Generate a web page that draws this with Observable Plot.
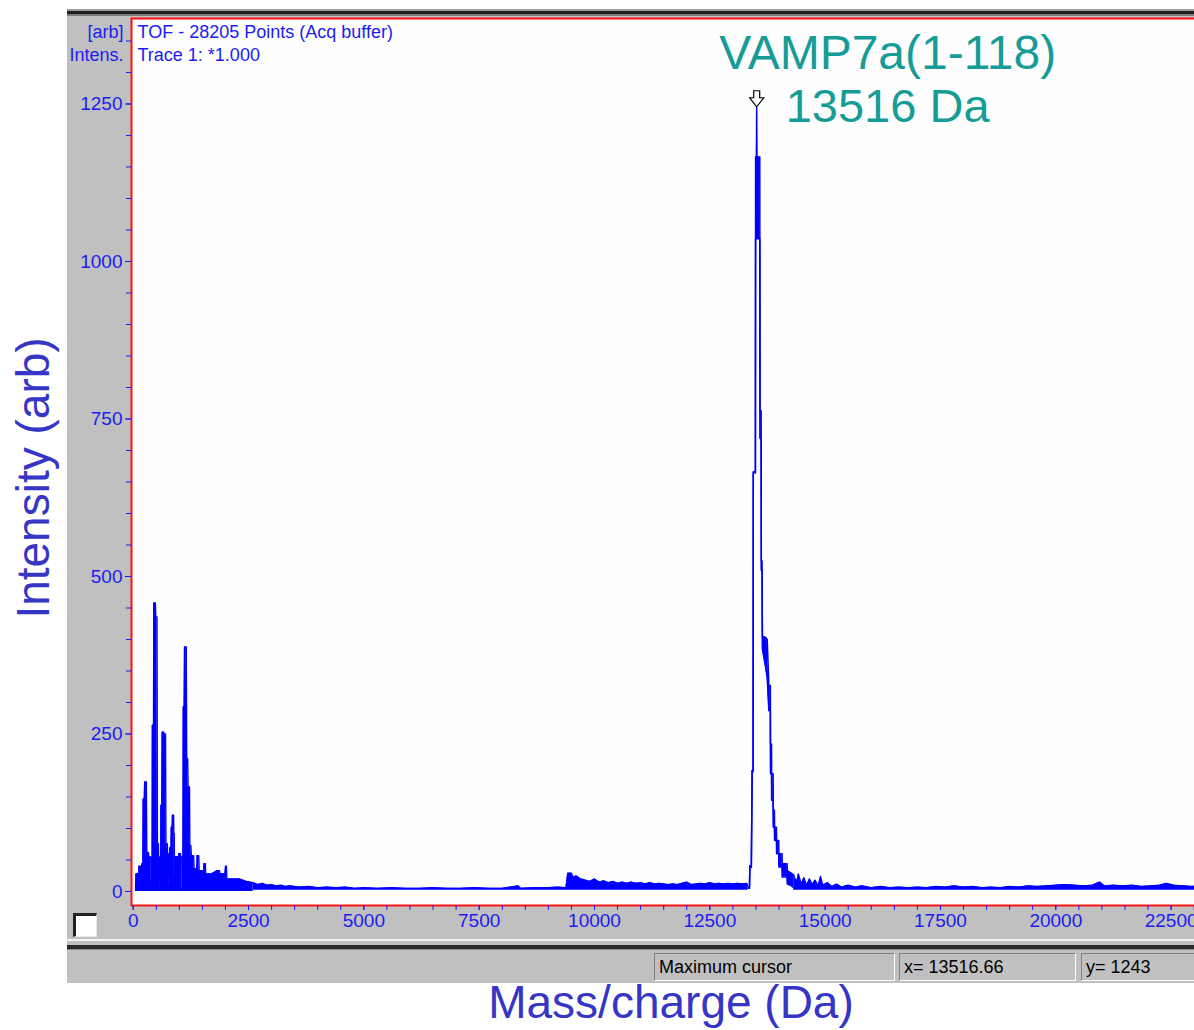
<!DOCTYPE html>
<html>
<head>
<meta charset="utf-8">
<script src="https://cdn.jsdelivr.net/npm/d3@7"></script>
<script src="https://cdn.jsdelivr.net/npm/@observablehq/plot@0.6"></script>
<style>
  html, body { margin: 0; padding: 0; background: #fff; }
  #root { position: relative; width: 1194px; height: 1030px; overflow: hidden; background: #fff; font-family: "Liberation Sans", Arial, sans-serif; }
  .abs { position: absolute; }
  .status { position: absolute; top: 953px; height: 28px; box-sizing: border-box; border-top: 1px solid #808080; border-left: 1px solid #808080; border-bottom: 1px solid #ffffff; border-right: 1px solid #ffffff; font-size: 18px; color: #000; line-height: 26px; padding-left: 4px; white-space: nowrap; }
</style>
</head>
<body>
<div id="root">
  <div class="abs" style="left:67px;top:9px;width:1140px;height:974px;background:#c0c0c0"></div>
  <div class="abs" style="left:67px;top:9px;width:1140px;height:2px;background:#9a9a9a"></div>
  <div class="abs" style="left:67px;top:11px;width:1140px;height:3px;background:#1e1e1e"></div>
  <div class="abs" style="left:67px;top:14px;width:1140px;height:2px;background:#7a7a7a"></div>
  <div id="chart" class="abs" style="left:0;top:0;width:1240px"></div>
  <div class="abs" style="left:73px;top:913px;width:24px;height:24px;box-sizing:border-box;background:#fff;border-top:3px solid #202020;border-left:3px solid #202020;border-right:1px solid #e8e8e8;border-bottom:1px solid #e8e8e8"></div>
  <div class="abs" style="left:67px;top:939px;width:1140px;height:2px;background:#f4f4f4"></div>
  <div class="abs" style="left:67px;top:945px;width:1140px;height:4px;background:#2a2a2a"></div>
  <div class="abs" style="left:67px;top:949px;width:1140px;height:1px;background:#8a8a8a"></div>
  <div class="status" id="st0" style="left:654px;width:241px"></div>
  <div class="status" id="st1" style="left:899px;width:177px"></div>
  <div class="status" id="st2" style="left:1081px;width:130px"></div>
  <div class="abs" id="ylab" style="left:33px;top:478px;transform:translate(-50%,-50%) rotate(-90deg);font-size:46px;color:#3535c6;white-space:nowrap;line-height:1"></div>
  <div class="abs" id="xlab" style="left:0;width:1342px;top:979px;text-align:center;font-size:46px;color:#3535c6;white-space:nowrap;line-height:1"></div>
</div>
<script>
// ---- Data ----
// Low-mass cluster (Da, intensity)
const lowMass = [50,60,120,125,180,190,210,216,240,248,285,295,330,340,380,395,410,415,440,447,480,490,515,525,545,550,570,577,595,600,620,628,660,670,700,710,740,745,765,772,790,795,820,825,845,850,875,880,890,895,905,910,980,990,1025,1030,1055,1062,1078,1085,1105,1112,1150,1160,1180,1190,1220,1228,1250,1260,1310,1320,1380,1385,1420,1430,1530,1535,1565,1570,1700,1820,1870,1880,1990,2001,2020,2030,2300,2450,2600];
const lowInt  = [4,28,28,40,40,44,44,147,147,174,174,62,62,55,55,15,15,264,264,458,458,436,436,76,76,55,55,7,7,137,137,253,253,250,250,76,76,60,60,12,12,70,70,102,102,121,121,92,92,10,10,55,55,60,60,55,55,4,4,293,293,388,388,211,211,166,166,73,73,57,57,36,36,57,57,33,33,44,44,28,28,33,33,28,28,40,40,20,20,16,14];

// Baseline noise envelope (Da, top of noise band); NaN marks the gap under the main peak
const noiseMass = [2600,2700,2800,2900,3000,3100,3200,3300,3400,3600,3800,4000,4200,4400,4600,4800,5000,5300,5600,5900,6200,6500,6800,7100,7400,7700,8000,8350,8400,8700,9000,9200,9380,9420,9500,9540,9600,9700,9800,9900,10000,10100,10200,10300,10400,10500,10600,10700,10800,10900,11000,11100,11200,11300,11400,11500,11600,11700,11800,11900,12000,12100,12200,12300,12400,12500,12600,12700,12800,12900,13000,13100,13200,13300,13330,13900,14320,14380,14420,14480,14540,14600,14660,14720,14780,14850,14900,14950,15050,15150,15250,15350,15500,15650,15800,16000,16200,16400,16600,16800,17000,17200,17400,17600,17800,18000,18200,18400,18600,18800,19000,19200,19400,19600,19800,20000,20200,20400,20600,20800,20950,21050,21250,21450,21650,21850,22050,22250,22400,22550,22750,22950,23150,23400,23700,24000];
const noiseTop  = [14,11,13,10,11,9,10,8,9,7,8,6,7,6,7,5,6,5,6,5,5,6,5,5,6,5,5,9,5,6,6,7,6,29,29,22,25,20,18,16,20,15,17,14,16,13,15,13,15,13,14,12,14,12,13,12,11,12,11,13,15,11,12,13,12,14,12,13,12,13,12,13,12,13,8,NaN,26,14,28,12,22,10,20,11,18,9,24,10,14,8,12,7,10,7,9,6,8,6,7,6,7,6,8,7,9,7,8,6,7,6,8,7,9,8,9,10,11,10,9,10,15,9,10,9,10,8,9,10,13,10,9,8,9,8,9,8];
const noiseFloor = 2;

// Main peak, VAMP7a(1-118): low and high edge of the trace at each mass
const peakMass = [13338,13360,13368,13400,13418,13438,13442,13488,13492,13510,13516,13522,13583,13588,13612,13616,13632,13640,13700,13744,13780,13812,13815,13837,13840,13872,13876,13900,13904,13944,13948,13994,13998,14066,14070,14175,14180,14250,14320];
const peakLo   = [5,5,41,38,192,190,666,664,1036,1036,1036,1036,1036,719,719,510,510,385,360,340,287,287,187,187,145,145,102,102,81,81,60,60,39,39,23,23,12,10,6];
const peakHi   = [6,8,41,41,192,192,666,666,1166,1166,1244,1166,1166,763,763,525,525,404,404,400,327,327,234,234,187,187,129,129,102,102,81,81,60,60,44,44,33,30,26];

const apexMass = 13516;
const apexInt = 1244;

// Axes
const xMajor = [0,2500,5000,7500,10000,12500,15000,17500,20000,22500];
const yMajor = [0,250,500,750,1000,1250];
const xMinor = d3.range(0, 24001, 500);
const yMinor = d3.range(0, 1351, 50);

// Text
const peakLabel = "VAMP7a(1-118)";
const peakMassLabel = "13516 Da";
const infoLine1 = "TOF - 28205 Points (Acq buffer)";
const infoLine2 = "Trace 1: *1.000";
const unitLine1 = "[arb]";
const unitLine2 = "Intens.";
const statusTexts = ["Maximum cursor", "x= 13516.66", "y= 1243"];
const yTitle = "Intensity (arb)";
const xTitle = "Mass/charge (Da)";

// ---- Drawing ----
const blue = "#0000ff";
const axisBlue = "#1c1cf0";
const teal = "#169c97";

const lowIdx = d3.range(lowMass.length);
const noiseIdx = d3.range(noiseMass.length);
const peakIdx = d3.range(peakMass.length);

const arrowSymbol = {
  draw(ctx) {
    ctx.moveTo(-3, -17); ctx.lineTo(3, -17); ctx.lineTo(3, -10); ctx.lineTo(7, -10);
    ctx.lineTo(0, -1); ctx.lineTo(-7, -10); ctx.lineTo(-3, -10); ctx.closePath();
  }
};

const font = "Liberation Sans, Arial, sans-serif";

const chart = Plot.plot({
  width: 1240,
  height: 940,
  marginLeft: 131,
  marginRight: 0,
  marginTop: 18,
  marginBottom: 35,
  x: {type: "linear", domain: [-37, 24004]},
  y: {type: "linear", domain: [-22.2, 1385.7]},
  style: {background: "transparent", maxWidth: "none", overflow: "visible", fontFamily: font, fontSize: "18px", color: axisBlue},
  marks: [
    Plot.frame({fill: "#fefefe", stroke: "none"}),
    Plot.areaY(lowIdx, {x: i => lowMass[i], y1: () => 0, y2: i => lowInt[i], fill: blue}),
    Plot.lineY(lowIdx, {x: i => lowMass[i], y: i => lowInt[i], stroke: blue, strokeWidth: 1.4}),
    Plot.areaY(noiseIdx, {x: i => noiseMass[i], y1: () => noiseFloor, y2: i => noiseTop[i], fill: blue}),
    Plot.lineY(noiseIdx, {x: i => noiseMass[i], y: i => noiseTop[i], stroke: blue, strokeWidth: 1.3}),
    Plot.areaY(peakIdx, {x: i => peakMass[i], y1: i => peakLo[i], y2: i => peakHi[i], fill: blue}),
    Plot.lineY(peakIdx, {x: i => peakMass[i], y: i => peakHi[i], stroke: blue, strokeWidth: 1.5}),
    Plot.lineY(peakIdx, {x: i => peakMass[i], y: i => peakLo[i], stroke: blue, strokeWidth: 1.5}),
    Plot.frame({stroke: "#ff1010", strokeWidth: 2}),
    Plot.axisY({ticks: yMinor, tickSize: 5, tickFormat: () => "", label: null, stroke: axisBlue}),
    Plot.axisY({ticks: yMajor, tickSize: 6, tickPadding: 3, label: null, stroke: axisBlue, fill: axisBlue, fontSize: 19, tickFormat: d => String(d)}),
    Plot.axisX({ticks: xMinor, tickSize: 5, tickFormat: () => "", label: null, stroke: axisBlue}),
    Plot.axisX({ticks: xMajor, tickSize: 5, tickPadding: 3, label: null, stroke: axisBlue, fill: axisBlue, fontSize: 19, tickFormat: d => String(d)}),
    Plot.text([infoLine1], {frameAnchor: "top-left", text: d => d, dx: 6, dy: 19, lineAnchor: "bottom", textAnchor: "start", fill: axisBlue, fontSize: 18}),
    Plot.text([infoLine2], {frameAnchor: "top-left", text: d => d, dx: 6, dy: 42, lineAnchor: "bottom", textAnchor: "start", fill: axisBlue, fontSize: 18}),
    Plot.text([unitLine1], {frameAnchor: "top-left", text: d => d, dx: -8, dy: 19, lineAnchor: "bottom", textAnchor: "end", fill: axisBlue, fontSize: 18}),
    Plot.text([unitLine2], {frameAnchor: "top-left", text: d => d, dx: -8, dy: 42, lineAnchor: "bottom", textAnchor: "end", fill: axisBlue, fontSize: 18}),
    Plot.dot([apexMass], {x: d => d, y: () => apexInt, symbol: arrowSymbol, r: 8, fill: "#ffffff", stroke: "#000000", strokeWidth: 1.2}),
    Plot.text([peakLabel], {x: () => apexMass, y: () => apexInt, text: d => d, dx: 131, dy: -39, lineAnchor: "bottom", textAnchor: "middle", fill: teal, fontSize: 48, fontFamily: font}),
    Plot.text([peakMassLabel], {x: () => apexMass, y: () => apexInt, text: d => d, dx: 29, dy: 14, lineAnchor: "bottom", textAnchor: "start", fill: teal, fontSize: 47, fontFamily: font})
  ]
});
document.getElementById("chart").appendChild(chart);

statusTexts.forEach((t, i) => { document.getElementById("st" + i).textContent = t; });
document.getElementById("ylab").textContent = yTitle;
document.getElementById("xlab").textContent = xTitle;
</script>
</body>
</html>
